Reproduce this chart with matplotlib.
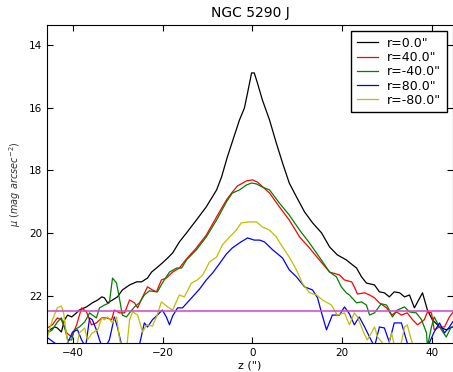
import matplotlib
matplotlib.use("Agg")
import matplotlib.pyplot as plt

# profiles, z in arcsec, mu in mag arcsec^-2
z_0 = [-45.9, -45.2, -44.1, -43.5, -42.6, -41.9, -41.2, -40.3, -39.0, -38.6, -37.0, -35.7,
       -34.5, -33.6, -33.0, -32.3, -31.2, -30.1, -29.0, -27.4, -25.8, -24.7, -23.4, -22.5,
       -21.4, -20.1, -18.9, -17.8, -16.3, -14.7, -12.5, -10.3, -8.0, -6.9, -5.6, -4.0,
       -2.9, -1.8, -1.1, -0.2, 0.4, 1.1, 2.2, 3.8, 5.3, 6.7, 8.2, 9.8, 11.6, 13.4, 15.4,
       17.2, 18.9, 20.9, 22.3, 23.2, 24.3, 25.4, 27.2, 28.3, 29.4, 30.5, 31.6, 32.8, 33.9,
       35.0, 36.1, 37.9, 39.0, 40.1, 41.7, 43.2, 44.6]
mu_0 = [23.18, 23.08, 22.99, 23.02, 23.15, 22.76, 22.61, 22.67, 22.51, 22.45, 22.35, 22.22,
        22.13, 22.03, 22.06, 22.22, 22.13, 22.03, 21.81, 21.65, 21.55, 21.55, 21.43, 21.24,
        21.11, 20.95, 20.79, 20.63, 20.28, 19.99, 19.58, 19.16, 18.62, 18.21, 17.57, 16.87,
        16.39, 16.01, 15.53, 14.89, 14.89, 15.21, 15.75, 16.39, 17.12, 17.76, 18.40, 18.84,
        19.32, 19.67, 19.99, 20.44, 20.69, 20.85, 21.01, 21.11, 21.39, 21.59, 21.65, 21.87,
        21.90, 22.03, 21.87, 21.90, 22.03, 21.97, 22.38, 21.90, 22.45, 22.76, 22.99, 23.08,
        22.99]

z_p40 = [-45.7, -44.6, -43.5, -42.6, -41.4, -40.3, -39.2, -38.1, -37.0, -35.9, -34.8, -33.6,
         -32.5, -31.4, -30.8, -29.6, -28.5, -27.4, -26.3, -25.6, -24.5, -23.4, -22.3, -21.4,
         -20.3, -19.2, -17.8, -16.3, -14.7, -12.5, -10.3, -8.0, -5.8, -4.5, -3.3, -1.3, 0.0,
         1.1, 3.8, 6.0, 8.2, 10.5, 12.7, 14.9, 17.2, 19.4, 20.5, 22.1, 22.7, 23.4, 25.0,
         26.1, 27.2, 28.3, 29.9, 31.0, 32.1, 33.2, 34.5, 35.7, 36.8, 38.3, 39.0, 39.9, 40.5,
         41.7, 42.8, 43.9, 44.6]
mu_p40 = [23.02, 22.92, 22.70, 22.76, 23.18, 23.31, 22.92, 22.38, 22.51, 22.92, 22.86, 22.70,
          22.70, 22.76, 22.45, 22.54, 22.54, 22.13, 22.22, 22.38, 22.03, 21.71, 21.81, 21.87,
          21.49, 21.43, 21.24, 21.11, 20.82, 20.47, 20.06, 19.48, 18.94, 18.69, 18.49, 18.33,
          18.30, 18.37, 18.72, 19.16, 19.58, 20.12, 20.47, 20.85, 21.24, 21.33, 21.49, 21.55,
          21.71, 21.94, 21.90, 21.97, 22.06, 22.22, 22.38, 22.61, 22.51, 22.61, 22.54, 22.76,
          22.92, 22.76, 22.51, 22.54, 23.08, 22.99, 22.99, 22.67, 22.54]

z_m40 = [-45.7, -44.6, -43.5, -42.6, -41.9, -41.2, -40.3, -39.7, -38.6, -37.4, -36.3, -35.7,
         -34.8, -34.1, -33.0, -31.9, -31.2, -30.3, -29.6, -29.0, -28.1, -27.4, -26.3, -25.2,
         -24.1, -23.0, -21.2, -20.1, -18.5, -16.9, -15.8, -14.7, -12.5, -10.3, -8.0, -5.8,
         -4.5, -2.9, -1.3, -0.2, 0.9, 2.2, 3.8, 6.0, 8.2, 10.5, 12.7, 14.9, 17.2, 18.7,
         19.8, 20.9, 21.6, 23.2, 24.3, 25.4, 26.1, 27.2, 28.7, 29.9, 30.5, 31.2, 32.3, 33.9,
         35.0, 36.5, 37.7, 38.8, 39.0, 39.9, 40.5, 41.7, 43.2, 44.3]
mu_m40 = [23.18, 23.08, 22.83, 22.70, 22.99, 23.40, 23.40, 23.08, 22.99, 22.83, 22.54, 22.61,
          22.70, 22.38, 22.29, 22.22, 21.43, 21.59, 22.13, 22.61, 22.67, 22.54, 22.35, 22.22,
          21.97, 21.84, 21.87, 21.59, 21.24, 21.11, 21.11, 20.85, 20.53, 20.12, 19.58, 19.00,
          18.72, 18.62, 18.46, 18.40, 18.43, 18.53, 18.62, 19.04, 19.42, 19.90, 20.31, 20.76,
          21.24, 21.39, 21.71, 21.90, 21.97, 22.22, 22.19, 22.29, 22.61, 22.54, 22.25, 22.29,
          22.45, 22.67, 22.45, 22.35, 22.51, 22.54, 22.76, 23.18, 23.62, 22.99, 22.67, 22.99,
          23.31, 22.99]

z_p80 = [-45.9, -44.1, -42.6, -41.2, -40.1, -39.0, -38.1, -37.2, -36.3, -35.7, -34.8, -34.1,
         -33.2, -31.9, -31.4, -30.8, -30.1, -29.2, -27.9, -26.3, -25.2, -24.1, -23.4, -22.3,
         -21.2, -20.1, -19.2, -18.5, -17.8, -16.7, -15.6, -14.0, -11.8, -10.3, -8.9, -7.4,
         -5.8, -4.5, -2.9, -1.1, 0.4, 1.6, 2.7, 4.5, 6.7, 8.2, 9.8, 11.6, 13.4, 14.5, 15.4,
         16.5, 17.8, 19.4, 20.5, 21.6, 22.7, 23.8, 25.0, 26.1, 27.2, 28.3, 29.4, 30.5, 31.6,
         33.2, 34.5, 35.4, 38.3, 39.4, 40.5, 41.7, 42.8, 43.9, 44.6]
mu_p80 = [23.31, 23.50, 23.62, 23.50, 23.15, 23.08, 23.40, 23.62, 22.70, 22.76, 23.08, 23.40,
          23.75, 23.40, 23.08, 22.67, 22.99, 23.56, 23.90, 23.90, 23.56, 22.86, 22.99, 22.76,
          22.61, 22.45, 22.67, 22.92, 22.64, 22.38, 22.38, 22.13, 21.78, 21.49, 21.27, 20.98,
          20.66, 20.47, 20.31, 20.15, 20.22, 20.22, 20.28, 20.53, 20.79, 21.17, 21.39, 21.71,
          21.81, 22.06, 22.54, 23.08, 22.61, 22.61, 22.35, 22.57, 22.92, 22.67, 22.99, 23.31,
          23.62, 22.99, 23.02, 23.47, 22.86, 22.86, 23.50, 23.90, 23.90, 23.50, 23.15, 22.86,
          23.18, 22.99, 22.83]

z_m80 = [-46.3, -45.7, -44.6, -43.5, -42.6, -42.1, -41.4, -40.7, -39.4, -38.6, -37.4, -36.8,
         -35.7, -34.5, -33.6, -33.0, -32.3, -31.2, -30.3, -29.6, -29.0, -28.1, -27.4, -26.7,
         -25.6, -24.5, -23.6, -22.3, -21.4, -20.3, -18.9, -17.8, -16.3, -15.2, -13.6, -12.3,
         -11.1, -9.6, -8.0, -6.7, -5.1, -3.6, -2.5, -0.7, 0.9, 2.2, 3.8, 5.3, 6.7, 8.2, 9.8,
         11.1, 12.7, 14.3, 15.6, 17.6, 18.9, 20.5, 21.6, 22.7, 23.4, 24.3, 25.0, 25.6, 26.5,
         27.2, 27.9, 29.0, 29.9, 31.0, 31.6, 32.8, 33.9, 34.5, 35.4, 36.3, 40.5, 44.6]
mu_m80 = [23.50, 23.31, 22.76, 22.38, 22.32, 22.54, 23.31, 23.75, 23.75, 23.18, 23.02, 23.40,
          23.18, 23.08, 22.70, 22.76, 22.67, 22.86, 22.67, 23.40, 23.75, 23.75, 22.76, 22.51,
          22.61, 23.15, 22.92, 22.96, 22.67, 22.19, 22.35, 22.45, 21.97, 22.03, 21.59, 21.49,
          21.33, 20.92, 20.76, 20.37, 20.12, 19.90, 19.67, 19.64, 19.64, 19.80, 19.90, 20.12,
          20.44, 20.76, 21.17, 21.59, 21.90, 21.97, 22.13, 22.29, 22.61, 22.54, 22.92, 22.54,
          22.67, 22.99, 23.24, 23.40, 23.18, 22.99, 23.31, 23.50, 23.75, 23.18, 23.56, 23.75,
          22.99, 22.92, 23.40, 23.75, 23.75, 23.90]

sky_level = 22.48

series = [
    (z_0, mu_0, "k", 'r=0.0"'),
    (z_p40, mu_p40, "r", 'r=40.0"'),
    (z_m40, mu_m40, "g", 'r=-40.0"'),
    (z_p80, mu_p80, "b", 'r=80.0"'),
    (z_m80, mu_m80, "y", 'r=-80.0"'),
]


def main():
    fig = plt.figure(figsize=(4.53, 3.72), dpi=100)
    ax = fig.add_axes([0.1038, 0.078, 0.8962, 0.855])

    for z, mu, color, label in series:
        ax.plot(z, mu, color=color, lw=0.9, label=label)

    ax.axhline(sky_level, color="#c850c8", lw=1.5, alpha=0.8)

    ax.set_xlim(-45.8, 44.7)
    ax.set_ylim(23.5, 13.36)
    ax.set_xticks([-40, -20, 0, 20, 40])
    ax.set_yticks([14, 16, 18, 20, 22])
    ax.tick_params(direction="in", top=True, right=True, labelsize=7.5, length=4)

    ax.set_title("NGC 5290 J", fontsize=10)
    ax.set_xlabel('z (")', fontsize=8, labelpad=2)
    ax.set_ylabel(r"$\mu\ (mag\ arcsec^{-2})$", fontsize=7, color="#333333", labelpad=4)

    leg = ax.legend(loc="upper right", fontsize=9, fancybox=False, framealpha=1,
                    labelspacing=0.1, handlelength=1.7, handletextpad=0.7,
                    borderpad=0.45, borderaxespad=0.5)
    leg.get_frame().set_edgecolor("black")

    fig.savefig("out.png", dpi=100)
    plt.close(fig)


if __name__ == "__main__":
    main()
